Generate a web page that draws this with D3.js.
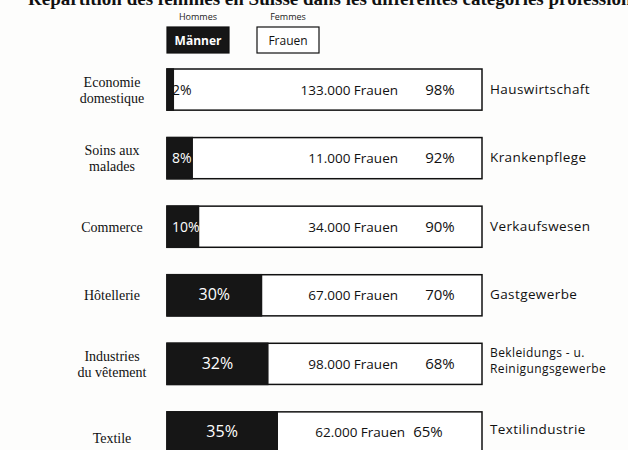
<!DOCTYPE html>
<html><head><meta charset="utf-8">
<script src="https://cdn.jsdelivr.net/npm/d3@7"></script>
<style>
html,body{margin:0;padding:0;background:#fdfdfc;}
svg{display:block;}
</style></head>
<body>
<script>
const categoriesFr = [["Economie","domestique"],["Soins aux","malades"],["Commerce"],["Hôtellerie"],["Industries","du vêtement"],["Textile"]];
const categoriesDe = [["Hauswirtschaft"],["Krankenpflege"],["Verkaufswesen"],["Gastgewerbe"],["Bekleidungs - u.","Reinigungsgewerbe"],["Textilindustrie"]];
const menPct = [2, 8, 10, 30, 32, 35];
const womenPct = [98, 92, 90, 70, 68, 65];
const womenCount = [133000, 11000, 34000, 67000, 98000, 62000];
const legendLabels = ["Männer", "Frauen"];
const legendFr = ["Hommes", "Femmes"];
const title = "Répartition des femmes en Suisse dans les différentes catégories professionnelles";

const W = 628, H = 450;
const svg = d3.select("body").append("svg").attr("width", W).attr("height", H);
const serif = "'Liberation Serif','DejaVu Serif',serif";
const hand = "'Open Sans','DejaVu Sans',sans-serif";
const dark = "#161616";

const idx = d3.range(categoriesFr.length);
const x = d3.scaleLinear().domain([0, 100]).range([167, 482]);
const y = d3.scaleBand().domain(idx).range([69, 453]).paddingInner(0.4);
const loc = d3.formatLocale({decimal: ",", thousands: ".", grouping: [3], currency: ["", ""]});
const fmt = loc.format(",.0f");

// title (clipped at top, as in the scan)
svg.append("text").attr("x", 28).attr("y", 5)
  .attr("font-family", serif).attr("font-weight", "bold").attr("font-size", 19)
  .attr("fill", "#111").text(title);

// legend
const lg = svg.append("g");
const lx = [167, 257], lw = 62;
legendLabels.forEach((l, i) => {
  lg.append("text").attr("x", lx[i] + lw/2).attr("y", 20).attr("text-anchor", "middle")
    .attr("font-family", hand).attr("font-size", 9).attr("fill", "#222").text(legendFr[i]);
  lg.append("rect").attr("x", lx[i]).attr("y", 27).attr("width", lw).attr("height", 26)
    .attr("fill", i === 0 ? dark : "#fff").attr("stroke", "#111").attr("stroke-width", 1.2);
  lg.append("text").attr("x", lx[i] + lw/2).attr("y", 45).attr("text-anchor", "middle")
    .attr("font-family", hand).attr("font-size", 12).attr("font-weight", i === 0 ? "bold" : "normal")
    .attr("fill", i === 0 ? "#fff" : "#111").text(l);
});

const rows = svg.append("g").selectAll("g").data(idx).join("g");

// white (women) full bar outline
rows.append("rect")
  .attr("x", x(0)).attr("y", d => y(d)).attr("width", x(100) - x(0)).attr("height", y.bandwidth())
  .attr("fill", "#fff").attr("stroke", "#111").attr("stroke-width", 1.5);
// dark (men) segment
rows.append("rect")
  .attr("x", x(0)).attr("y", d => y(d)).attr("width", d => x(menPct[d]) - x(0)).attr("height", y.bandwidth())
  .attr("fill", dark).attr("stroke", dark).attr("stroke-width", 1.5);

const cy = d => y(d) + y.bandwidth()/2 + 5;

// men percent labels
rows.append("text")
  .attr("x", d => menPct[d] >= 20 ? (x(0) + x(menPct[d]))/2 : x(0) + 5)
  .attr("y", cy)
  .attr("text-anchor", d => menPct[d] >= 20 ? "middle" : "start")
  .attr("font-family", hand).attr("font-size", d => menPct[d] >= 20 ? 16 : 14)
  .attr("fill", d => menPct[d] >= 5 ? "#fff" : "#111")
  .text(d => menPct[d] + "%");

// women count
rows.append("text")
  .attr("x", d => d === 5 ? 405 : 398).attr("y", cy).attr("text-anchor", "end")
  .attr("font-family", hand).attr("font-size", 13.5).attr("fill", "#111")
  .text(d => fmt(womenCount[d]) + " Frauen");

// women percent
rows.append("text")
  .attr("x", d => womenPct[d] <= 65 ? 428 : 440).attr("y", cy).attr("text-anchor", "middle")
  .attr("font-family", hand).attr("font-size", 15).attr("fill", "#111")
  .text(d => womenPct[d] + "%");

// left French and right German labels
rows.each(function(d) {
  const g = d3.select(this);
  const lines = categoriesFr[d];
  const c = y(d) + y.bandwidth()/2 + (d === 5 ? 6 : 0);
  lines.forEach((t, k) => {
    g.append("text").attr("x", 112)
      .attr("y", c + 5 + (k - (lines.length - 1)/2) * 16)
      .attr("text-anchor", "middle").attr("font-family", serif).attr("font-size", 14)
      .attr("fill", "#111").text(t);
  });
  const rl = categoriesDe[d];
  const two = rl.length > 1;
  const rc = y(d) + y.bandwidth()/2 - (d === 5 ? 3 : 1) - (two ? 3 : 0);
  rl.forEach((t, k) => {
    g.append("text").attr("x", 490)
      .attr("y", rc + 5 + (k - (rl.length - 1)/2) * 15.5)
      .attr("font-family", hand).attr("font-size", two ? 12 : 13.5).attr("letter-spacing", 0.4)
      .attr("fill", "#111").text(t);
  });
});
</script>
</body></html>
